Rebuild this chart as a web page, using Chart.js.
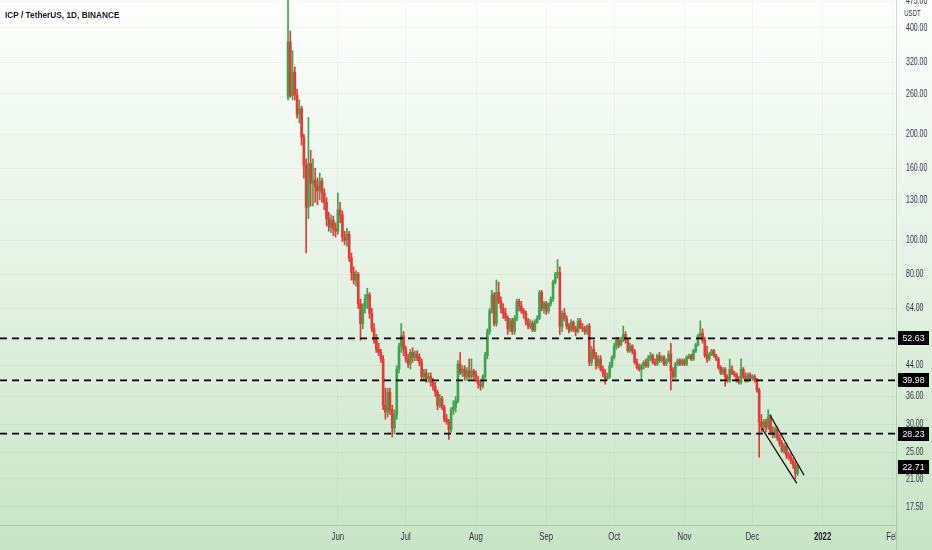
<!DOCTYPE html>
<html>
<head>
<meta charset="utf-8">
<title>ICP / TetherUS, 1D, BINANCE</title>
<script src="https://cdn.jsdelivr.net/npm/chart.js@4.4.1/dist/chart.umd.min.js"></script>
<style>
    html, body { margin: 0; padding: 0; background: #fff; }
    #wrap { position: relative; width: 932px; height: 550px; }
    #title {
        position: absolute; left: 5px; top: 10px;
        font: bold 8.3px 'Liberation Sans', Arial, sans-serif;
        color: #131722;
        white-space: nowrap;
    }
</style>
</head>
<body>
<div id="wrap">
    <canvas id="chart"></canvas>
    <div id="title">ICP / TetherUS, 1D, BINANCE</div>
</div>
<script>
// Daily candles, first one = 10 May 2021 (index 0)
const opens = [
    255,365,257,300,258,228,236,196,163,124,
    165,145,148,142,138,147,136,128,115,109,
    114,108,106,122,118,102,100,104,89,81,
    77,80,66,58,64,68,70,62,56,52,
    49,48,46,34,32.5,37,33,29.3,32,43,
    50,53.5,49,46,44.5,48,46.5,47.5,46.5,45,
    41,42,40.5,41,39.5,38.5,37,34,35.5,33.5,
    31,30.5,29,33,33.5,35,44.5,42,43,41,
    42.5,41,42.5,41.5,40,39,38.5,41,47,55,
    63,70,58,71,67,64,62,60,56,59,
    55,60,67,65,63,62,59,57,58,55.5,
    58.5,60,71,64,66,63,66,68,76,80,
    81,57,62,60,57,55.5,58.5,56,55,59,
    56.5,56,55,57,45,49,47,44,46,43,
    42,40.5,41,44,46.5,50,52,50.5,52,54,
    52,48.5,50,48.5,45,43.5,43,44,45,44,
    46,47,45,44.5,47,45.5,46.5,44.5,45.5,47.5,
    42.5,41,44.5,45.5,44.5,45.5,44.5,46.5,47,46,
    48.5,50.5,53.5,54.5,52,47,46,47.5,48.5,47,
    46,43.5,42,43,41,40,43,42,41.5,40,
    39.5,43,41,40,41.5,40.5,41,40,37.5,30.5,
    29.5,30.5,29.5,31.5,28.5,28,29,27.5,26.5,25.2,
    26,24.5,24.2,23.6,23,21.8
];
const highs = [
    620,392,345,310,268,250,240,200,170,223,
    180,170,160,150,155,150,140,132,120,118,
    117,112,136,128,121,106,108,106,92,84,
    82,81,68,66,70,73,71,64,58,54,
    51,49,47,38,38,38,34,33,44,51,
    58,55,50,47.5,49,49.5,48.5,48.5,47.5,46,
    43,43,42,42,40.5,39.5,37.5,36.5,36,34,
    32,31,33.5,35,36,45.5,48,44,44,43.5,
    46,46,43,42.5,41,40,41.5,48,56,64,
    72,71,77,76,69,66,64,61,60,60,
    61,68,68,67,64,63,60,59.5,59,59.5,
    61,72,72,67,67,66.5,69,77,81,88,
    84,63,64,61,58,59.5,59,57,60,60,
    58,57,57.5,58,50,52,48,47,47,44,
    43,42,45,47,51,53,53,53,57,55,
    52.5,51,50.5,49,46,44.5,44.5,45.5,46,47,
    48,47.5,46,47.5,48,47,47,46,48.5,51,
    43.5,45,46,46,46,46,47,47.5,47.5,49,
    51,54,59,56,53,50,48,49,49,47.5,
    46.5,44,43.5,43.5,41.5,46,44,42.5,42,41,
    46,43.5,42,42,42,41.5,41.5,40.5,38,32,
    31,31,33,32,29.5,29.5,29.5,28,27,26.5,
    26.5,25,24.8,24,23.5,23
];
const lows = [
    250,254,250,250,222,215,186,150,92,115,
    125,125,128,126,130,128,122,110,106,105,
    103,102,104,112,99,97,96,87,77,75,
    74,64,52,56,62,64,60,55,51,48,
    47,45,33,31,31.5,32,27.6,28.2,31,42,
    48,47,45,43.5,43,45,45.5,45.5,44,40,
    40,39.5,39.5,38.5,37.5,36,33,33.5,33,30.5,
    30,27.2,28.5,32,32.5,34.5,41.5,41,40,40,
    40.5,40.5,40.5,39.5,38,37.5,38,40.5,46,54,
    62,57,57,66,62,60,59,54,55,54,
    54,59,63,62,60,57.5,56,56,55,55,
    58,59.5,63,62,61.5,62,65,67,75,78,
    54,55,59,56,54.5,55,55,53.5,54.5,56,
    55,54,54,44,44,46,43,43.5,42.5,41,
    39,40,40.5,43.5,46,49,49.5,50,51.5,51,
    48,48,47.5,44.5,43,42.5,40,43,43.5,43.5,
    45.5,44.5,44,44,45,45,44,44,45,37.6,
    40.5,40.5,44,44,44,44,44,46,45.5,45.5,
    48,50,53,51,46.5,45,45.5,47,46.5,45.5,
    43,41.5,41.5,38.5,39.5,39.5,41.5,41,39.5,39,
    39,40.5,39.5,39.5,40,40,39.5,37,24.2,28.5,
    29,28.5,29,28,27.5,27.5,27,26,25,24.8,
    24,23.8,23.2,22.5,21,21.5
];
const closes = [
    365,257,300,258,228,236,196,163,124,165,
    145,148,142,138,147,136,128,115,109,114,
    108,106,122,118,102,100,104,89,81,77,
    80,66,58,64,68,70,62,56,52,49,
    48,46,34,32.5,37,33,29.3,32,43,50,
    53.5,49,46,44.5,48,46.5,47.5,46.5,45,41,
    42,40.5,41,39.5,38.5,37,34,35.5,33.5,31,
    30.5,29,33,33.5,35,44.5,42,43,41,42.5,
    41,42.5,41.5,40,39,38.5,41,47,55,63,
    70,58,71,67,64,62,60,56,59,55,
    60,67,65,63,62,59,57,58,55.5,58.5,
    60,71,64,66,63,66,68,76,80,81,
    57,62,60,57,55.5,58.5,56,55,59,56.5,
    56,55,57,45,49,47,44,46,43,42,
    40.5,41,44,46.5,50,52,50.5,52,54,52,
    48.5,50,48.5,45,43.5,43,44,45,44,46,
    47,45,44.5,47,45.5,46.5,44.5,45.5,47.5,42.5,
    41,44.5,45.5,44.5,45.5,44.5,46.5,47,46,48.5,
    50.5,53.5,54.5,52,47,46,47.5,48.5,47,46,
    43.5,42,43,41,40,43,42,41.5,40,39.5,
    43,41,40,41.5,40.5,41,40,37.5,30.5,29.5,
    30.5,29.5,31.5,28.5,28,29,27.5,26.5,25.2,26,
    24.5,24.2,23.6,23,21.8,22.71
];

// price scale ticks (log axis) and time axis labels (day index from 10 May)
const priceTicks = [17.5, 21, 25, 30, 36, 44, 52, 64, 80, 100, 130, 160, 200, 260, 320, 400, 475];
const monthLabels = ['Jun', 'Jul', 'Aug', 'Sep', 'Oct', 'Nov', 'Dec', '2022', 'Feb'];
const monthDays = [22, 52, 83, 114, 144, 175, 205, 236, 267];

// drawn levels and falling channel
const levels = [52.63, 39.98, 28.23];
const lastPrice = 22.71;
const channelUpper = [{ x: 212.8, y: 31.9 }, { x: 227.8, y: 21.5 }];
const channelLower = [{ x: 209.1, y: 29.3 }, { x: 224.6, y: 20.4 }];

const UP = '#3fa34d';
const DOWN = '#e53935';
const FONT = "'Liberation Sans', Arial, sans-serif";
const X_MIN = -127.15, X_MAX = 268.4;

const candleColors = closes.map((c, i) => c >= opens[i] ? UP : DOWN);
const wickData = closes.map((c, i) => ({ x: i, y: [lows[i], highs[i]] }));
const bodyData = closes.map((c, i) => ({ x: i, y: [opens[i], c] }));

const levelSets = levels.map(v => ({
    type: 'line',
    data: [{ x: X_MIN, y: v }, { x: X_MAX, y: v }],
    borderColor: '#000',
    borderWidth: 1.8,
    borderDash: [7, 5],
    pointRadius: 0,
    order: 0
}));

const channelSets = [channelUpper, channelLower].map(pts => ({
    type: 'line',
    data: pts,
    borderColor: '#000',
    borderWidth: 1.2,
    pointRadius: 0,
    order: 0
}));

// draw condensed text (the reference scale labels are narrow)
function narrowText(ctx, text, x, y, sx, align) {
    ctx.save();
    ctx.translate(x, y);
    ctx.scale(sx, 1);
    ctx.textAlign = align;
    ctx.fillText(text, 0, 0);
    ctx.restore();
}

const bgPlugin = {
    id: 'bg',
    beforeDraw(chart) {
        const { ctx, width, height } = chart;
        const g = ctx.createLinearGradient(0, 0, 0, height);
        g.addColorStop(0, '#fdfefd');
        g.addColorStop(0.5, '#e5f2e4');
        g.addColorStop(1, '#c8e4c6');
        ctx.save();
        ctx.fillStyle = g;
        ctx.fillRect(0, 0, width, height);
        ctx.restore();
    }
};

const overlayPlugin = {
    id: 'overlay',
    afterDraw(chart) {
        const { ctx, chartArea } = chart;
        const xs = chart.scales.x, ys = chart.scales.y;
        const right = chartArea.right;
        ctx.save();
        // axis borders
        ctx.strokeStyle = 'rgba(80, 90, 80, 0.22)';
        ctx.lineWidth = 1;
        ctx.beginPath();
        ctx.moveTo(right + 0.5, 0);
        ctx.lineTo(right + 0.5, chart.height);
        ctx.moveTo(0, chartArea.bottom + 0.5);
        ctx.lineTo(right, chartArea.bottom + 0.5);
        ctx.stroke();

        // price scale labels
        ctx.fillStyle = '#2f3340';
        ctx.font = '10px ' + FONT;
        ctx.textBaseline = 'middle';
        priceTicks.forEach(v => {
            narrowText(ctx, v.toFixed(2), right + 10, ys.getPixelForValue(v), 0.7, 'left');
        });

        // currency label
        ctx.font = '9px ' + FONT;
        narrowText(ctx, 'USDT', right + 16.5, 13.5, 0.68, 'center');

        // time labels, clipped at the price scale
        ctx.save();
        ctx.beginPath();
        ctx.rect(0, chartArea.bottom, right, chart.height - chartArea.bottom);
        ctx.clip();
        monthLabels.forEach((lab, k) => {
            const x = xs.getPixelForValue(monthDays[k]);
            ctx.fillStyle = lab === '2022' ? '#131722' : '#2f3340';
            ctx.font = (lab === '2022' ? 'bold ' : '') + '10.5px ' + FONT;
            narrowText(ctx, lab, x, chartArea.bottom + 12.5, 0.74, 'center');
        });
        ctx.restore();

        // price boxes
        levels.concat([lastPrice]).forEach(v => {
            const y = Math.round(ys.getPixelForValue(v));
            ctx.fillStyle = '#000';
            ctx.fillRect(right + 2, y - 7, 31, 14);
            ctx.fillStyle = '#fff';
            ctx.font = '9.6px ' + FONT;
            narrowText(ctx, v.toFixed(2), right + 17.5, y + 0.5, 0.92, 'center');
        });
        ctx.restore();
    }
};

const noPad = s => { s.paddingTop = 0; s.paddingBottom = 0; s.paddingLeft = 0; s.paddingRight = 0; };

new Chart(document.getElementById('chart'), {
    type: 'bar',
    data: {
        datasets: [
            ...levelSets,
            ...channelSets,
            {
                data: bodyData,
                backgroundColor: candleColors,
                barThickness: 2,
                minBarLength: 1,
                grouped: false,
                order: 1
            },
            {
                data: wickData,
                backgroundColor: candleColors,
                barThickness: 1,
                grouped: false,
                order: 2
            }
        ]
    },
    options: {
        responsive: true,
        maintainAspectRatio: false,
        animation: false,
        layout: { padding: 0 },
        plugins: {
            legend: { display: false },
            tooltip: { enabled: false }
        },
        scales: {
            x: {
                type: 'linear',
                min: X_MIN,
                max: X_MAX,
                offset: false,
                afterBuildTicks: s => { s.ticks = monthDays.map(d => ({ value: d })); },
                afterFit: s => { s.height = 25; noPad(s); },
                ticks: { display: false },
                grid: { offset: false, color: 'rgba(42, 46, 57, 0.03)', drawTicks: false },
                border: { display: false }
            },
            y: {
                type: 'logarithmic',
                position: 'right',
                min: 15.54,
                max: 480.3,
                afterBuildTicks: s => { s.ticks = priceTicks.map(v => ({ value: v })); },
                afterFit: s => { s.width = 36; noPad(s); },
                ticks: { display: false },
                grid: { color: 'rgba(42, 46, 57, 0.045)', drawTicks: false },
                border: { display: false }
            }
        }
    },
    plugins: [bgPlugin, overlayPlugin]
});
</script>
</body>
</html>
